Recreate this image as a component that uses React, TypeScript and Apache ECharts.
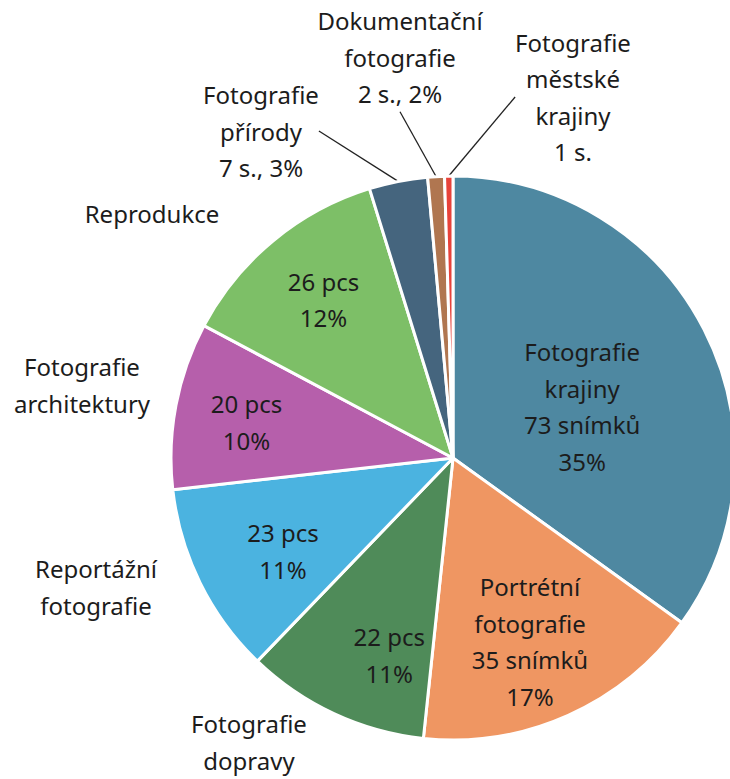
import React, { useEffect, useRef } from "react";
import * as echarts from "echarts";

// ---- data ----
const categories = [
  "Fotografie\nkrajiny",
  "Portrétní\nfotografie",
  "Fotografie\ndopravy",
  "Reportážní\nfotografie",
  "Fotografie\narchitektury",
  "Reprodukce",
  "Fotografie\npřírody",
  "Dokumentační\nfotografie",
  "Fotografie\nměstské\nkrajiny",
];
const values = [73, 35, 22, 23, 20, 26, 7, 2, 1];
const percentLabels = ["35%", "17%", "11%", "11%", "10%", "12%", "3%", "2%", ""];
const colors = [
  "#4e88a1",
  "#ef9662",
  "#4f8b59",
  "#4bb3e0",
  "#b65fab",
  "#7dbf67",
  "#45657e",
  "#b07650",
  "#e8423a",
];

const insideFull = [0, 1];
const insidePcs = [2, 3, 4, 5];
const callouts = [6, 7, 8];

// outside label centers (layout only)
const OUTSIDE_POS: Record<number, [number, number]> = {
  2: [249, 742],
  3: [96, 587],
  4: [82, 385],
  5: [152, 213],
  6: [261, 131],
  7: [400, 57],
  8: [573, 97],
};
// small nudges of inside labels (layout only)
const INSIDE_NUDGE: Record<number, [number, number]> = {
  0: [1, 14],
  1: [-6, -2],
  2: [22, 13],
  3: [12, 3],
  4: [-7, 2],
  5: [0, -2],
};

const FONT = "Noto Sans";
const TEXT = "#1c1c1c";

export default function App() {
  const ref = useRef<HTMLDivElement>(null);
  useEffect(() => {
    if (!ref.current) return;
    const chart = echarts.init(ref.current, undefined, { renderer: "svg" });
    const center = [453, 458];
    const R = 282;

    const baseLabel = {
      fontFamily: FONT,
      fontSize: 24,
      lineHeight: 36.5,
      color: TEXT,
      align: "center" as const,
    };

    const mainData = values.map((v, i) => {
      const item: any = {
        name: categories[i],
        value: v,
        itemStyle: { color: colors[i] },
      };
      if (i === 0) {
        item.label = {
          show: true,
          position: "inside",
          formatter: `${categories[i]}\n${v} snímků\n${percentLabels[i]}`,
        };
      } else if (insideFull.includes(i)) {
        item.label = { show: false };
      } else if (insidePcs.includes(i)) {
        item.label = {
          show: true,
          position: "outside",
          formatter: categories[i],
        };
        item.labelLine = { show: false };
      } else if (callouts.includes(i)) {
        item.label = {
          show: true,
          position: "outside",
          formatter:
            percentLabels[i] !== ""
              ? `${categories[i]}\n${v} s., ${percentLabels[i]}`
              : `${categories[i]}\n${v} s.`,
        };
        item.labelLine = {
          show: true,
          length: 10,
          length2: 0,
          lineStyle: { color: "#222", width: 1.3 },
        };
      }
      return item;
    });

    const overlayData = values.map((v, i) => {
      const item: any = {
        name: categories[i],
        value: v,
        itemStyle: { color: "rgba(0,0,0,0)" },
        label: { show: false },
      };
      if (i === 1) {
        item.label = {
          show: true,
          position: "inside",
          formatter: `${categories[i]}\n${v} snímků\n${percentLabels[i]}`,
        };
      } else if (insidePcs.includes(i)) {
        item.label = {
          show: true,
          position: "inside",
          formatter: `${v} pcs\n${percentLabels[i]}`,
        };
      }
      return item;
    });

    chart.setOption({
      animation: false,
      backgroundColor: "#ffffff",
      series: [
        {
          type: "pie",
          center,
          radius: [0, R],
          startAngle: 90,
          clockwise: true,
          avoidLabelOverlap: false,
          itemStyle: { borderColor: "#ffffff", borderWidth: 3 },
          label: { ...baseLabel },
          labelLine: { show: false },
          emphasis: { disabled: true },
          labelLayout: (params: any) => {
            const p = OUTSIDE_POS[params.dataIndex];
            if (p) return { x: p[0], y: p[1], align: "center", verticalAlign: "middle" };
            const n = INSIDE_NUDGE[params.dataIndex];
            if (n) return { dx: n[0], dy: n[1] };
            return {};
          },
          data: mainData,
        },
        {
          type: "pie",
          center,
          radius: [0, 400],
          startAngle: 90,
          clockwise: true,
          silent: true,
          avoidLabelOverlap: false,
          itemStyle: { borderWidth: 0 },
          label: { ...baseLabel },
          labelLine: { show: false },
          emphasis: { disabled: true },
          labelLayout: (params: any) => {
            const n = INSIDE_NUDGE[params.dataIndex];
            if (n) return { dx: n[0], dy: n[1] };
            return {};
          },
          data: overlayData,
          z: 3,
        },
      ],
    });
    return () => chart.dispose();
  }, []);

  return (
    <div
      ref={ref}
      style={{ position: "absolute", left: 0, top: 0, width: 730, height: 779 }}
    />
  );
}
